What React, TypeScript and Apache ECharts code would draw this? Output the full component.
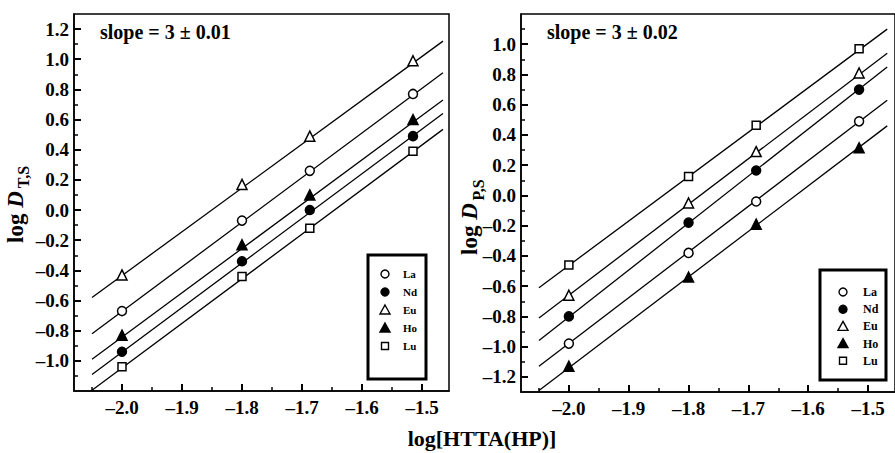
import React, { useEffect, useRef } from 'react';
import * as echarts from 'echarts';

// ---------- data ----------
const elements = ['La', 'Nd', 'Eu', 'Ho', 'Lu'];
const xValues = [-2.0, -1.8, -1.687, -1.515];

// left panel: log D(T,S)
const leftLa = [-0.67, -0.07, 0.26, 0.77];
const leftNd = [-0.94, -0.34, 0.0, 0.49];
const leftEu = [-0.43, 0.17, 0.49, 0.99];
const leftHo = [-0.83, -0.23, 0.1, 0.6];
const leftLu = [-1.04, -0.44, -0.12, 0.39];

// right panel: log D(P,S)
const rightLa = [-0.98, -0.38, -0.04, 0.49];
const rightNd = [-0.8, -0.18, 0.165, 0.7];
const rightEu = [-0.66, -0.05, 0.29, 0.81];
const rightHo = [-1.13, -0.54, -0.19, 0.315];
const rightLu = [-0.46, 0.125, 0.465, 0.97];

// fitted lines: value at start x and end x
const fitStartX = -2.05;
const leftFitEndX = -1.465;
const rightFitEndX = -1.468;
const leftFitStart = [-0.82, -1.09, -0.58, -0.99, -1.195];
const leftFitEnd = [0.91, 0.64, 1.12, 0.73, 0.535];
const rightFitStart = [-1.13, -0.96, -0.81, -1.29, -0.61];
const rightFitEnd = [0.63, 0.85, 0.94, 0.46, 1.1];

// ticks
const xTickValues = [-2.0, -1.9, -1.8, -1.7, -1.6, -1.5];
const xMinorTicks = [-2.05, -1.95, -1.85, -1.75, -1.65, -1.55];
const leftYTicks = [-1.0, -0.8, -0.6, -0.4, -0.2, 0.0, 0.2, 0.4, 0.6, 0.8, 1.0, 1.2];
const leftYMinor = [-1.1, -0.9, -0.7, -0.5, -0.3, -0.1, 0.1, 0.3, 0.5, 0.7, 0.9, 1.1];
const rightYTicks = [-1.2, -1.0, -0.8, -0.6, -0.4, -0.2, 0.0, 0.2, 0.4, 0.6, 0.8, 1.0];
const rightYMinor = [-1.1, -0.9, -0.7, -0.5, -0.3, -0.1, 0.1, 0.3, 0.5, 0.7, 0.9, 1.1];

const leftSlopeText = 'slope = 3 ± 0.01';
const rightSlopeText = 'slope = 3 ± 0.02';
const xAxisTitle = 'log[HTTA(HP)]';

// ---------- styles ----------
const FONT = "'Liberation Serif', 'Times New Roman', serif";
const symbolKinds = ['circle', 'circle', 'triangle', 'triangle', 'rect'];
const symbolFilled = [false, true, false, true, false];
const symbolSizes = [9, 9, 10, 10, 8];

const fmt = (v: number) => {
  const s = Math.abs(v) < 1e-9 ? '0.0' : v.toFixed(1);
  return s.replace('-', '\u2013');
};

function buildOption() {
  const leftVals = [leftLa, leftNd, leftEu, leftHo, leftLu];
  const rightVals = [rightLa, rightNd, rightEu, rightHo, rightLu];

  const grids = [
    { left: 74, top: 14, width: 375, height: 377 },
    { left: 521, top: 14, width: 375, height: 378 },
  ].map((g) => ({
    ...g,
    show: true,
    borderColor: '#000',
    borderWidth: 1.5,
  }));

  const labelStyle = {
    color: '#000',
    fontSize: 19,
    fontWeight: 'bold',
    fontFamily: FONT,
  };

  const xAxisBase = (gridIndex: number) => ({
    type: 'value',
    gridIndex,
    position: 'bottom',
    min: -2.08,
    max: -1.455,
    splitLine: { show: false },
  });
  const yAxisBase = (gridIndex: number, min: number, max: number) => ({
    type: 'value',
    gridIndex,
    position: 'left',
    min,
    max,
    splitLine: { show: false },
  });

  const mainX = (gridIndex: number) => ({
    ...xAxisBase(gridIndex),
    axisLine: { show: true, onZero: false, lineStyle: { color: '#000', width: 1.5 } },
    axisTick: {
      show: true,
      inside: true,
      length: 7,
      customValues: xTickValues,
      lineStyle: { color: '#000', width: 2 },
    },
    axisLabel: { ...labelStyle, margin: 7, customValues: xTickValues, formatter: fmt },
  });
  const minorX = (gridIndex: number) => ({
    ...xAxisBase(gridIndex),
    axisLine: { show: false, onZero: false },
    axisTick: {
      show: true,
      inside: true,
      length: 4,
      customValues: xMinorTicks,
      lineStyle: { color: '#000', width: 1.5 },
    },
    axisLabel: { show: false },
  });
  const mainY = (gridIndex: number, min: number, max: number, ticks: number[]) => ({
    ...yAxisBase(gridIndex, min, max),
    axisLine: { show: true, onZero: false, lineStyle: { color: '#000', width: 1.5 } },
    axisTick: {
      show: true,
      inside: true,
      length: 7,
      customValues: ticks,
      lineStyle: { color: '#000', width: 2 },
    },
    axisLabel: { ...labelStyle, margin: 5, customValues: ticks, formatter: fmt },
  });
  const minorY = (gridIndex: number, min: number, max: number, ticks: number[]) => ({
    ...yAxisBase(gridIndex, min, max),
    axisLine: { show: false, onZero: false },
    axisTick: {
      show: true,
      inside: true,
      length: 4,
      customValues: ticks,
      lineStyle: { color: '#000', width: 1.5 },
    },
    axisLabel: { show: false },
  });

  const series: any[] = [];
  const panels = [
    { axis: 0, vals: leftVals, fs: leftFitStart, fe: leftFitEnd, endX: leftFitEndX },
    { axis: 2, vals: rightVals, fs: rightFitStart, fe: rightFitEnd, endX: rightFitEndX },
  ];
  panels.forEach((p) => {
    elements.forEach((el, i) => {
      series.push({
        type: 'line',
        name: el + ' fit',
        xAxisIndex: p.axis,
        yAxisIndex: p.axis,
        data: [
          [fitStartX, p.fs[i]],
          [p.endX, p.fe[i]],
        ],
        symbol: 'none',
        showSymbol: false,
        silent: true,
        lineStyle: { color: '#000', width: 1.3 },
        z: 2,
      });
      series.push({
        type: 'scatter',
        name: el,
        xAxisIndex: p.axis,
        yAxisIndex: p.axis,
        data: xValues.map((x, j) => [x, p.vals[i][j]]),
        symbol: symbolKinds[i],
        symbolSize: symbolSizes[i],
        itemStyle: {
          color: symbolFilled[i] ? '#000' : '#fff',
          borderColor: '#000',
          borderWidth: 1.5,
          opacity: 1,
        },
        z: 3,
      });
    });
  });

  // legends (graphic)
  const legend = (
    box: { x: number; y: number; w: number; h: number },
    sx: number,
    tx: number,
    y0: number,
    gap: number,
    fontSize: number
  ) => {
    const children: any[] = [
      {
        type: 'rect',
        shape: { x: box.x, y: box.y, width: box.w, height: box.h },
        style: { fill: '#fff', stroke: '#000', lineWidth: 3 },
      },
    ];
    elements.forEach((el, i) => {
      const cy = y0 + i * gap;
      const fill = symbolFilled[i] ? '#000' : '#fff';
      const st = { fill, stroke: '#000', lineWidth: 1.4 };
      if (symbolKinds[i] === 'circle') {
        children.push({ type: 'circle', shape: { cx: sx, cy, r: 4 }, style: st });
      } else if (symbolKinds[i] === 'triangle') {
        children.push({
          type: 'polygon',
          shape: { points: [[sx, cy - 5], [sx + 5, cy + 4], [sx - 5, cy + 4]] },
          style: st,
        });
      } else {
        children.push({
          type: 'rect',
          shape: { x: sx - 3.5, y: cy - 3.5, width: 7, height: 7 },
          style: st,
        });
      }
      children.push({
        type: 'text',
        x: tx,
        y: cy,
        style: {
          text: el,
          fill: '#000',
          fontSize,
          fontWeight: 'bold',
          fontFamily: FONT,
          align: 'left',
          verticalAlign: 'middle',
        },
      });
    });
    return { type: 'group', children };
  };

  const yName = (x: number, y: number, subX: number, subY: number, sub: string) => [
    {
      type: 'text',
      x,
      y,
      rotation: Math.PI / 2,
      style: {
        text: '{a|log }{b|D}',
        align: 'center',
        verticalAlign: 'middle',
        fill: '#000',
        rich: {
          a: { fontSize: 23, fontWeight: 'bold', fontFamily: FONT, fill: '#000' },
          b: { fontSize: 23, fontWeight: 'bold', fontStyle: 'italic', fontFamily: FONT, fill: '#000' },
        },
      },
    },
    {
      type: 'text',
      x: subX,
      y: subY,
      rotation: Math.PI / 2,
      style: {
        text: sub,
        align: 'center',
        verticalAlign: 'middle',
        fill: '#000',
        fontSize: 16,
        fontWeight: 'bold',
        fontFamily: FONT,
      },
    },
  ];

  const graphic: any[] = [
    ...yName(15.5, 217, 23, 177, 'T,S'),
    ...yName(469.5, 229, 478, 190, 'P,S'),
    {
      type: 'text',
      x: 100,
      y: 32,
      style: {
        text: leftSlopeText,
        fill: '#000',
        fontSize: 20,
        fontWeight: 'bold',
        fontFamily: FONT,
        align: 'left',
        verticalAlign: 'middle',
      },
    },
    {
      type: 'text',
      x: 547,
      y: 32,
      style: {
        text: rightSlopeText,
        fill: '#000',
        fontSize: 20,
        fontWeight: 'bold',
        fontFamily: FONT,
        align: 'left',
        verticalAlign: 'middle',
      },
    },
    {
      type: 'text',
      x: 482,
      y: 438,
      style: {
        text: xAxisTitle,
        fill: '#000',
        fontSize: 22,
        fontWeight: 'bold',
        fontFamily: FONT,
        align: 'center',
        verticalAlign: 'middle',
      },
    },
    legend({ x: 368, y: 255, w: 58, h: 124 }, 385, 403, 274, 18, 11),
    legend({ x: 820, y: 270, w: 66, h: 110 }, 843, 863, 292, 17.2, 12),
  ];

  return {
    animation: false,
    backgroundColor: '#fff',
    grid: grids,
    xAxis: [mainX(0), minorX(0), mainX(1), minorX(1)],
    yAxis: [
      mainY(0, -1.2, 1.3, leftYTicks),
      minorY(0, -1.2, 1.3, leftYMinor),
      mainY(1, -1.3, 1.2, rightYTicks),
      minorY(1, -1.3, 1.2, rightYMinor),
    ],
    series,
    graphic,
  };
}

export default function App() {
  const ref = useRef<HTMLDivElement>(null);
  useEffect(() => {
    if (!ref.current) return;
    const chart = echarts.init(ref.current, undefined, { renderer: 'svg' });
    chart.setOption(buildOption() as any);
    return () => {
      chart.dispose();
    };
  }, []);
  return (
    <div
      ref={ref}
      style={{ position: 'fixed', left: 0, top: 0, width: 895, height: 453, background: '#fff' }}
    />
  );
}
